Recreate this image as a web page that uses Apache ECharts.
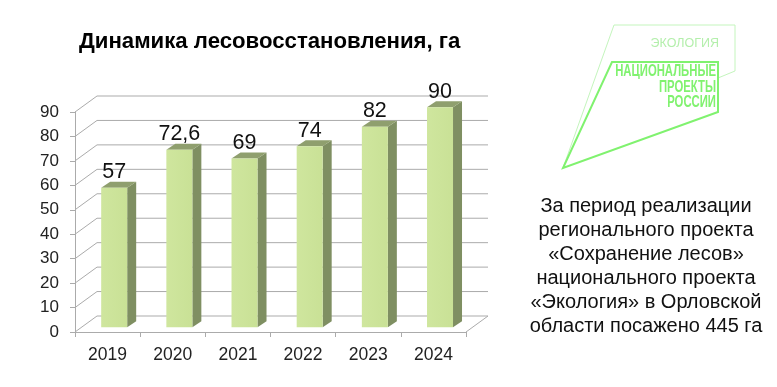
<!DOCTYPE html>
<html><head><meta charset="utf-8">
<style>html,body{margin:0;padding:0;background:#fff}#c{width:777px;height:387px}</style>
<script src="https://cdn.jsdelivr.net/npm/echarts@6/dist/echarts.min.js"></script>
</head><body><div id="c"></div>
<script>
const categories = ['2019','2020','2021','2022','2023','2024'];
const seriesValues = [57,72.6,69,74,82,90];
const valueLabels = ['57','72,6','69','74','82','90'];
const yTicks = [0,10,20,30,40,50,60,70,80,90];
const chartTitle = 'Динамика лесовосстановления, га';
const noteLines = ['За период реализации','регионального проекта','«Сохранение лесов»','национального проекта','«Экология» в Орловской','области посажено 445 га'];
const FONT = '"Liberation Sans", Arial, sans-serif';
const WALL = [22,-16], PLANE = 0.3, DEPTH = [9,-6], BARW = 26;
const GRID = '#ababab';
const chart = echarts.init(document.getElementById('c'));

function renderWall(params, api){
  const g = params.coordSys, t = api.value(1);
  const y = api.coord([0,t])[1];
  const xl = g.x, xr = g.x + g.width;
  const children = [{type:'polyline',shape:{points:[[xl,y],[xl+WALL[0],y+WALL[1]],[xr+WALL[0],y+WALL[1]]]},style:{stroke:GRID,fill:null,lineWidth:1}}];
  if(t===0) children.push({type:'line',shape:{x1:xr,y1:y,x2:xr+WALL[0],y2:y+WALL[1]},style:{stroke:GRID,lineWidth:1}});
  return {type:'group',children};
}
function renderBar(params, api){
  const i = api.value(0), v = api.value(1);
  const top = api.coord([i,v]), base = api.coord([i,0]);
  const dx = WALL[0]*PLANE, dy = WALL[1]*PLANE;
  const l = top[0]+dx-BARW/2, r = l+BARW, t = top[1]+dy, b = base[1]+dy;
  return {type:'group',children:[
    {type:'polygon',shape:{points:[[r,t],[r+DEPTH[0],t+DEPTH[1]],[r+DEPTH[0],b+DEPTH[1]],[r,b]]},style:{fill:'#7f8f62'}},
    {type:'polygon',shape:{points:[[l,t],[l+DEPTH[0],t+DEPTH[1]],[r+DEPTH[0],t+DEPTH[1]],[r,t]]},style:{fill:'#8f9f6e'}},
    {type:'rect',shape:{x:l,y:t,width:BARW,height:b-t},style:{fill:new echarts.graphic.LinearGradient(0,0,1,0,[{offset:0,color:'#cfe69e'},{offset:1,color:'#c9e196'}])}},
    {type:'text',x:(l+r)/2,y:t-15.5,style:{text:valueLabels[params.dataIndex],font:'21.5px '+FONT,fill:'#111',align:'center',verticalAlign:'middle'}}
  ]};
}
const logoGreen = '#80f26f';
chart.setOption({
  animation:false,
  backgroundColor:'#fff',
  title:{text:chartTitle,left:79,top:31,padding:0,textStyle:{fontFamily:FONT,fontSize:22.2,fontWeight:'bold',color:'#000'}},
  grid:{left:75,top:112,width:391,height:220,containLabel:false},
  xAxis:{type:'category',data:categories,
    axisLine:{lineStyle:{color:GRID}},axisTick:{show:true,length:5,lineStyle:{color:GRID}},
    axisLabel:{fontFamily:FONT,fontSize:17.5,color:'#222',margin:14},splitLine:{show:false}},
  yAxis:{type:'value',min:0,max:90,interval:10,
    axisLine:{show:true,lineStyle:{color:GRID}},axisTick:{show:true,length:5,lineStyle:{color:GRID}},
    axisLabel:{fontFamily:FONT,fontSize:17,color:'#222',margin:16,padding:[3,0,0,0]},splitLine:{show:false}},
  series:[
    {type:'custom',name:'walls',renderItem:renderWall,data:yTicks.map(t=>[0,t]),silent:true,z:1,clip:false},
    {type:'custom',name:'Лесовосстановление',renderItem:renderBar,data:seriesValues.map((v,i)=>[i,v]),z:2,clip:false}
  ],
  graphic:[
    {type:'polyline',shape:{points:[[563,168],[614,25],[735,25],[735,71],[718,78]]},style:{stroke:'#c4f5bd',fill:null,lineWidth:1}},
    {type:'polygon',shape:{points:[[612,62],[718,62],[718,112],[563,168]]},style:{stroke:logoGreen,fill:null,lineWidth:2}},
    {type:'text',x:719,y:44,style:{text:'ЭКОЛОГИЯ',font:'12.5px '+FONT,fill:'#b4efac',align:'right',verticalAlign:'middle'}},
    {type:'text',x:716,y:72,scaleX:0.87,scaleY:1.25,style:{text:'НАЦИОНАЛЬНЫЕ',font:'bold 13px '+FONT,fill:logoGreen,align:'right',verticalAlign:'middle'}},
    {type:'text',x:716,y:88,scaleX:0.87,scaleY:1.25,style:{text:'ПРОЕКТЫ',font:'bold 13px '+FONT,fill:logoGreen,align:'right',verticalAlign:'middle'}},
    {type:'text',x:716,y:103,scaleX:0.87,scaleY:1.25,style:{text:'РОССИИ',font:'bold 13px '+FONT,fill:logoGreen,align:'right',verticalAlign:'middle'}},
    ...noteLines.map((s,i)=>({type:'text',x:646,y:206+i*24,style:{text:s,font:'20px '+FONT,fill:'#111',align:'center',verticalAlign:'middle'}}))
  ]
});
</script></body></html>
